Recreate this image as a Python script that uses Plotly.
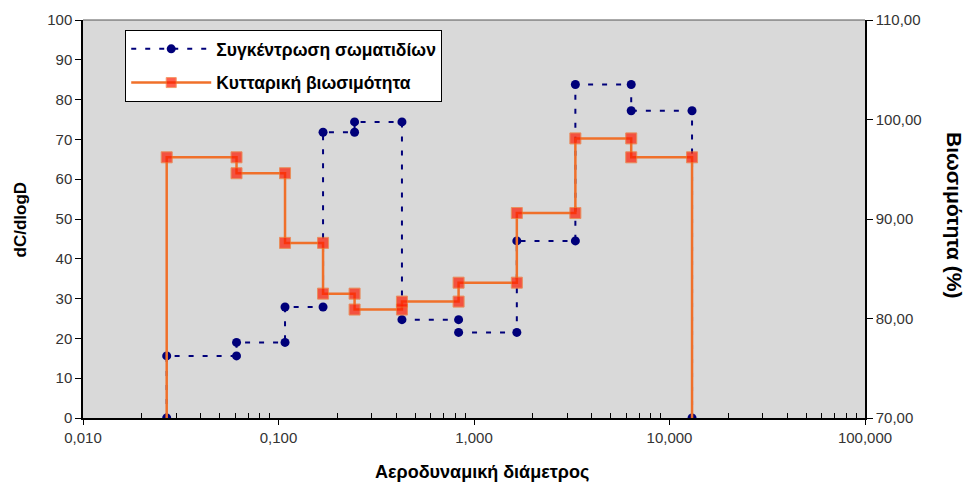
import plotly.graph_objects as go

# Step-plot data (x = aerodynamic diameter, log scale)
conc_x = [0.0268, 0.0268, 0.061, 0.061, 0.108, 0.108, 0.169, 0.169, 0.245, 0.245,
          0.428, 0.428, 0.834, 0.834, 1.656, 1.656, 3.30, 3.30, 6.37, 6.37, 13.04, 13.04]
conc_y = [0, 15.6, 15.6, 19.0, 19.0, 27.9, 27.9, 71.8, 71.8, 74.4,
          74.4, 24.7, 24.7, 21.5, 21.5, 44.5, 44.5, 83.8, 83.8, 77.2, 77.2, 0]

viab_x = [0.0268, 0.0268, 0.061, 0.061, 0.108, 0.108, 0.169, 0.169, 0.245, 0.245,
          0.428, 0.428, 0.834, 0.834, 1.656, 1.656, 3.30, 3.30, 6.37, 6.37, 13.04, 13.04]
viab_y = [70, 96.2, 96.2, 94.6, 94.6, 87.6, 87.6, 82.5, 82.5, 80.9,
          80.9, 81.7, 81.7, 83.6, 83.6, 90.6, 90.6, 98.1, 98.1, 96.2, 96.2, 70]

series_names = ["Συγκέντρωση σωματιδίων", "Κυτταρική βιωσιμότητα"]

x_major = [0.01, 0.1, 1, 10, 100]
x_major_text = ["0,010", "0,100", "1,000", "10,000", "100,000"]
y_left_ticks = [0, 10, 20, 30, 40, 50, 60, 70, 80, 90, 100]
y_right_ticks = [70, 80, 90, 100, 110]
y_right_text = ["70,00", "80,00", "90,00", "100,00", "110,00"]

x_title = "Αεροδυναμική διάμετρος"
y_left_title = "dC/dlogD"
y_right_title = "Βιωσιμότητα (%)"

# minor log ticks
minor_vals = []
for d in x_major[:-1]:
    for m in range(2, 10):
        minor_vals.append(d * m)

FONT = "Liberation Sans, Arial, sans-serif"

fig = go.Figure()
fig.add_trace(go.Scatter(
    x=conc_x, y=conc_y, name=series_names[0], mode="lines+markers",
    line=dict(color="#00007A", width=2, dash="5px,9px"),
    marker=dict(symbol="circle", size=9, color="#00007A"),
    legendgroup="a",
))
msize = [0] + [11] * (len(viab_x) - 2) + [0]
fig.add_trace(go.Scatter(
    x=viab_x, y=viab_y, name=series_names[1], mode="lines+markers", yaxis="y2",
    line=dict(color="#F0702A", width=2.5),
    marker=dict(symbol="square", size=msize, color="#FF1A00",
                line=dict(color="#F0702A", width=1)),
    legendgroup="b",
))

fig.update_layout(
    width=965, height=485,
    margin=dict(l=83, r=100, t=20, b=67),
    paper_bgcolor="white",
    plot_bgcolor="#D9D9D9",
    font=dict(family=FONT, size=15, color="#222222"),
    showlegend=True,
    legend=dict(
        x=0.054, y=0.975, xanchor="left", yanchor="top",
        bgcolor="white", bordercolor="black", borderwidth=1,
        font=dict(family=FONT, size=17.5, color="black", weight="bold"),
        itemwidth=80, traceorder="grouped", tracegroupgap=8,
    ),
    xaxis=dict(
        type="log", range=[-2, 2],
        tickvals=x_major, ticktext=x_major_text,
        ticks="outside", ticklen=5, tickcolor="black",
        minor=dict(tickvals=minor_vals, ticks="inside", ticklen=5, tickcolor="black"),
        showline=True, linecolor="black", linewidth=1.5,
        showgrid=False, zeroline=False, mirror=False,
        tickfont=dict(size=15, color="#333333"),
    ),
    yaxis=dict(
        range=[0, 100], tickvals=y_left_ticks,
        ticks="outside", ticklen=6, tickcolor="black",
        showline=True, linecolor="black", linewidth=1.5,
        showgrid=False, zeroline=False,
        tickfont=dict(size=15, color="#333333"),
    ),
    yaxis2=dict(
        range=[70, 110], overlaying="y", side="right",
        tickvals=y_right_ticks, ticktext=y_right_text,
        ticks="outside", ticklen=6, tickcolor="black",
        showline=True, linecolor="black", linewidth=1.5,
        showgrid=False, zeroline=False,
        tickfont=dict(size=15, color="#333333"),
    ),
    shapes=[dict(type="line", xref="paper", yref="paper", x0=0, x1=1, y0=1, y1=1,
                 line=dict(color="#555555", width=1))],
    annotations=[
        dict(text="<b>" + x_title + "</b>", xref="paper", yref="paper",
             x=0.51, y=-0.105, xanchor="center", yanchor="top", showarrow=False,
             font=dict(size=18, color="black")),
        dict(text="<b>" + y_left_title + "</b>", xref="paper", yref="paper",
             x=-0.08, y=0.5, xanchor="center", yanchor="middle", showarrow=False,
             textangle=-90, font=dict(size=17, color="black")),
        dict(text="<b>" + y_right_title + "</b>", xref="paper", yref="paper",
             x=1.115, y=0.51, xanchor="center", yanchor="middle", showarrow=False,
             textangle=90, font=dict(size=21, color="black")),
    ],
)

fig.write_html("out.html")
